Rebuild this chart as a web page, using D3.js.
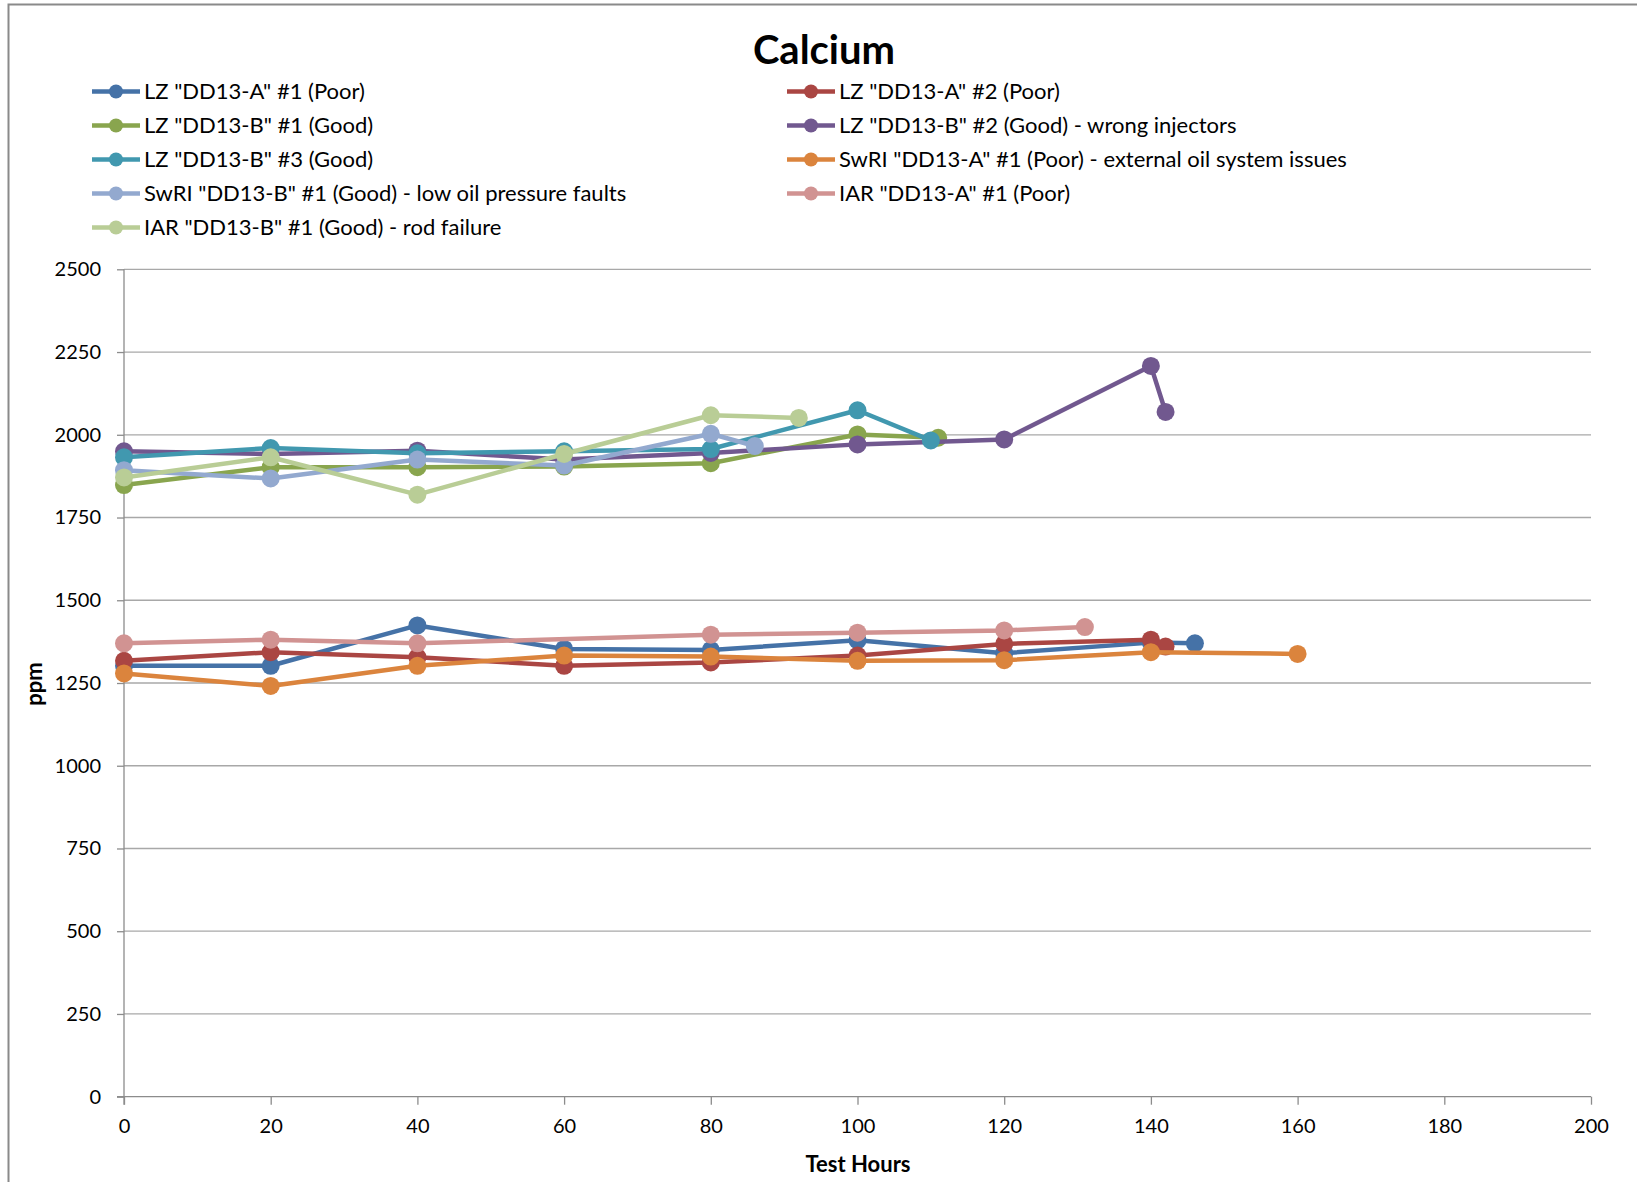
<!DOCTYPE html>
<html>
<head>
<meta charset="utf-8">
<script src="https://cdn.jsdelivr.net/npm/d3@7"></script>
<style>
  body { margin: 0; background: #fff; }
  svg { display: block; }
  text { font-family: Lato, "Open Sans", sans-serif; fill: #000; }
</style>
</head>
<body>
<svg id="chart" width="1637" height="1182"></svg>
<script>
// ---- data ----
const chartTitle = "Calcium";
const xTitle = "Test Hours";
const yTitle = "ppm";
const xTicks = [0, 20, 40, 60, 80, 100, 120, 140, 160, 180, 200];
const yTicks = [0, 250, 500, 750, 1000, 1250, 1500, 1750, 2000, 2250, 2500];

const seriesNames = [
  'LZ "DD13-A" #1 (Poor)',
  'LZ "DD13-A" #2 (Poor)',
  'LZ "DD13-B" #1 (Good)',
  'LZ "DD13-B" #2 (Good) - wrong injectors',
  'LZ "DD13-B" #3 (Good)',
  'SwRI "DD13-A" #1 (Poor) - external oil system issues',
  'SwRI "DD13-B" #1 (Good) - low oil pressure faults',
  'IAR "DD13-A" #1 (Poor)',
  'IAR "DD13-B" #1 (Good) - rod failure'
];
const seriesColors = ["#4572A7", "#AA4643", "#89A54E", "#71588F", "#4198AF",
                      "#DB843D", "#93A9CF", "#D19392", "#B9CD96"];

const hoursLzA1 = [0, 20, 40, 60, 80, 100, 120, 140, 146];
const ppmLzA1   = [1302, 1302, 1424, 1353, 1350, 1379, 1340, 1372, 1370];

const hoursLzA2 = [0, 20, 40, 60, 80, 100, 120, 140, 142];
const ppmLzA2   = [1317, 1343, 1328, 1302, 1312, 1333, 1368, 1381, 1360];

const hoursLzB1 = [0, 20, 40, 60, 80, 100, 111];
const ppmLzB1   = [1848, 1902, 1902, 1904, 1914, 2001, 1991];

const hoursLzB2 = [0, 20, 40, 60, 80, 100, 120, 140, 142];
const ppmLzB2   = [1950, 1942, 1952, 1925, 1945, 1971, 1986, 2208, 2069];

const hoursLzB3 = [0, 20, 40, 60, 80, 100, 110];
const ppmLzB3   = [1932, 1960, 1944, 1950, 1957, 2074, 1983];

const hoursSwriA1 = [0, 20, 40, 60, 80, 100, 120, 140, 160];
const ppmSwriA1   = [1279, 1241, 1302, 1333, 1330, 1317, 1319, 1343, 1338];

const hoursSwriB1 = [0, 20, 40, 60, 80, 86];
const ppmSwriB1   = [1893, 1868, 1925, 1907, 2003, 1966];

const hoursIarA1 = [0, 20, 40, 80, 100, 120, 131];
const ppmIarA1   = [1370, 1381, 1370, 1396, 1402, 1409, 1419];

const hoursIarB1 = [0, 20, 40, 60, 80, 92];
const ppmIarB1   = [1871, 1932, 1819, 1942, 2059, 2051];

const seriesHours = [hoursLzA1, hoursLzA2, hoursLzB1, hoursLzB2, hoursLzB3,
                     hoursSwriA1, hoursSwriB1, hoursIarA1, hoursIarB1];
const seriesPpm = [ppmLzA1, ppmLzA2, ppmLzB1, ppmLzB2, ppmLzB3,
                   ppmSwriA1, ppmSwriB1, ppmIarA1, ppmIarB1];

const series = seriesNames.map((name, i) => ({
  name,
  color: seriesColors[i],
  points: seriesHours[i].map((h, j) => ({ x: h, y: seriesPpm[i][j] }))
}));

// ---- layout ----
const svg = d3.select("#chart");
const plot = { left: 124, right: 1591, top: 269.3, bottom: 1096.7 };
const gridColor = "#a8a8a8";
const axisColor = "#8c8c8c";

const x = d3.scaleLinear().domain([0, 200]).range([plot.left, plot.right]);
const y = d3.scaleLinear().domain([0, 2500]).range([plot.bottom, plot.top]);

// outer chart frame
svg.append("rect")
  .attr("x", 8.5).attr("y", 4.5)
  .attr("width", 1700).attr("height", 1300)
  .attr("fill", "none").attr("stroke", "#8a8a8a").attr("stroke-width", 2);

// title
svg.append("text")
  .attr("x", 824).attr("y", 64)
  .attr("text-anchor", "middle")
  .attr("font-size", 40).attr("font-weight", 700)
  .text(chartTitle);

// horizontal gridlines
svg.append("g")
  .selectAll("line")
  .data(yTicks.filter(t => t > 0))
  .join("line")
  .attr("x1", plot.left).attr("x2", plot.right)
  .attr("y1", d => y(d)).attr("y2", d => y(d))
  .attr("stroke", gridColor).attr("stroke-width", 1.3);

// y axis
const yAxis = d3.axisLeft(y).tickValues(yTicks).tickSize(7).tickPadding(16).tickFormat(d3.format("d"));
const gy = svg.append("g").attr("transform", `translate(${plot.left},0)`).call(yAxis);
gy.select(".domain").attr("stroke", axisColor).attr("stroke-width", 1.3)
  .attr("d", `M0,${plot.top}V${plot.bottom + 8}`);
gy.selectAll(".tick line").attr("stroke", axisColor).attr("stroke-width", 1.3);
gy.selectAll(".tick text").attr("font-size", 20).attr("font-family", "Lato").attr("fill", "#000");

// x axis
const xAxis = d3.axisBottom(x).tickValues(xTicks).tickSize(8).tickPadding(14).tickFormat(d3.format("d"));
const gx = svg.append("g").attr("transform", `translate(0,${plot.bottom})`).call(xAxis);
gx.select(".domain").attr("stroke", axisColor).attr("stroke-width", 1.3)
  .attr("d", `M${plot.left - 7},0H${plot.right}`);
gx.selectAll(".tick line").attr("stroke", axisColor).attr("stroke-width", 1.3);
gx.selectAll(".tick text").attr("font-size", 20).attr("font-family", "Lato").attr("fill", "#000");

// axis titles
svg.append("text")
  .attr("x", 858).attr("y", 1172)
  .attr("text-anchor", "middle")
  .attr("font-size", 22).attr("font-weight", 700)
  .text(xTitle);
svg.append("text")
  .attr("transform", "translate(42,684) rotate(-90)")
  .attr("text-anchor", "middle")
  .attr("font-size", 22).attr("font-weight", 700)
  .text(yTitle);

// series lines and markers
const line = d3.line().x(d => x(d.x)).y(d => y(d.y));
const gSeries = svg.append("g")
  .selectAll("g")
  .data(series)
  .join("g");
gSeries.append("path")
  .attr("d", d => line(d.points))
  .attr("fill", "none")
  .attr("stroke", d => d.color)
  .attr("stroke-width", 4.5)
  .attr("stroke-linejoin", "round")
  .attr("stroke-linecap", "round");
gSeries.selectAll("circle")
  .data(d => d.points.map(p => ({ ...p, color: d.color })))
  .join("circle")
  .attr("cx", d => x(d.x)).attr("cy", d => y(d.y))
  .attr("r", 9)
  .attr("fill", d => d.color);

// legend: two columns, row-major
const legendCols = [92, 787];
const legendRowY = [91.5, 125.5, 159.5, 193.5, 227.5];
const legend = svg.append("g")
  .selectAll("g")
  .data(series)
  .join("g")
  .attr("transform", (d, i) => `translate(${legendCols[i % 2]},${legendRowY[Math.floor(i / 2)]})`);
legend.append("line")
  .attr("x1", 0).attr("x2", 48).attr("y1", 0).attr("y2", 0)
  .attr("stroke", d => d.color).attr("stroke-width", 4.5);
legend.append("circle")
  .attr("cx", 24).attr("cy", 0).attr("r", 7)
  .attr("fill", d => d.color);
legend.append("text")
  .attr("x", 52).attr("y", 0).attr("dy", "0.36em")
  .attr("font-size", 22)
  .text(d => d.name);
</script>
</body>
</html>
